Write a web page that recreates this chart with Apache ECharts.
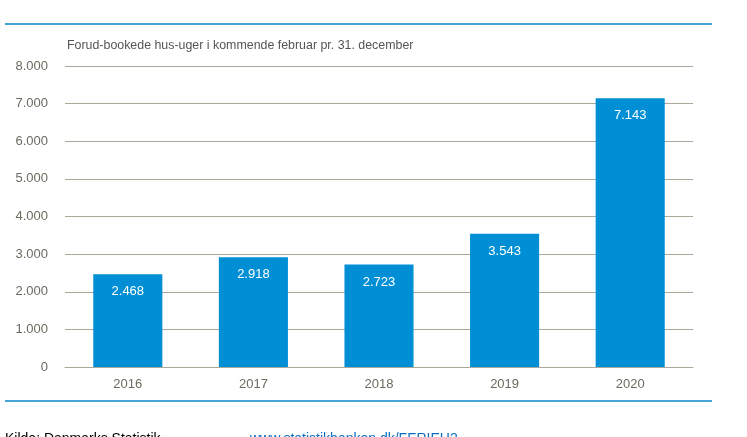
<!DOCTYPE html>
<html><head><meta charset="utf-8">
<script src="https://cdn.jsdelivr.net/npm/echarts@6/dist/echarts.min.js"></script>
<style>html,body{margin:0;padding:0;background:#fff;}#c{width:747px;height:437px;}</style>
</head><body><div id="c"></div>
<script>
const categories = ['2016','2017','2018','2019','2020'];
const values = [2468, 2918, 2723, 3543, 7143];
const yTicks = [0, 1000, 2000, 3000, 4000, 5000, 6000, 7000, 8000];
const title = 'Forud-bookede hus-uger i kommende februar pr. 31. december';
const sourceText = 'Kilde: Danmarks Statistik, ';
const sourceLink = 'www.statistikbanken.dk/FERIEH2';

const fmt = v => String(v).replace(/\B(?=(\d{3})+(?!\d))/g, '.');
const FONT = '"Liberation Sans",Arial,sans-serif';
const chart = echarts.init(document.getElementById('c'));
chart.setOption({
  animation: false,
  grid: {left: 65, right: 54, top: 66, bottom: 70, containLabel: false},
  graphic: [
    {type: 'line', shape: {x1: 5, y1: 24, x2: 712, y2: 24}, style: {stroke: '#0a86c8', lineWidth: 1.3}},
    {type: 'line', shape: {x1: 5, y1: 401, x2: 712, y2: 401}, style: {stroke: '#0a86c8', lineWidth: 1.3}},
    {type: 'text', left: 67, top: 40, style: {text: title, fill: '#555555', font: '12.4px ' + FONT}},
    {type: 'text', left: 5, top: 432, style: {text: sourceText, fill: '#000000', font: '14px ' + FONT}},
    {type: 'text', left: 250, top: 432, style: {text: sourceLink, fill: '#0a6fc2', font: '14px ' + FONT}}
  ],
  xAxis: {
    type: 'category', data: categories,
    axisLine: {show: true, lineStyle: {color: '#a9a89a', width: 1}},
    axisTick: {show: false},
    axisLabel: {color: '#6b6b60', fontSize: 13, fontFamily: FONT, margin: 11}
  },
  yAxis: {
    type: 'value', min: yTicks[0], max: yTicks[yTicks.length - 1], interval: 1000,
    axisLine: {show: false}, axisTick: {show: false},
    splitLine: {lineStyle: {color: '#a9a89a', width: 1}},
    axisLabel: {color: '#6b6b60', fontSize: 13, fontFamily: FONT, margin: 17, formatter: v => fmt(v)}
  },
  series: [{
    type: 'bar', data: values, barWidth: '55%',
    itemStyle: {color: '#008fd5'},
    label: {show: true, position: 'insideTop', distance: 11, color: '#ffffff', fontSize: 13, fontFamily: FONT, formatter: p => fmt(p.value)}
  }]
});
</script></body></html>
